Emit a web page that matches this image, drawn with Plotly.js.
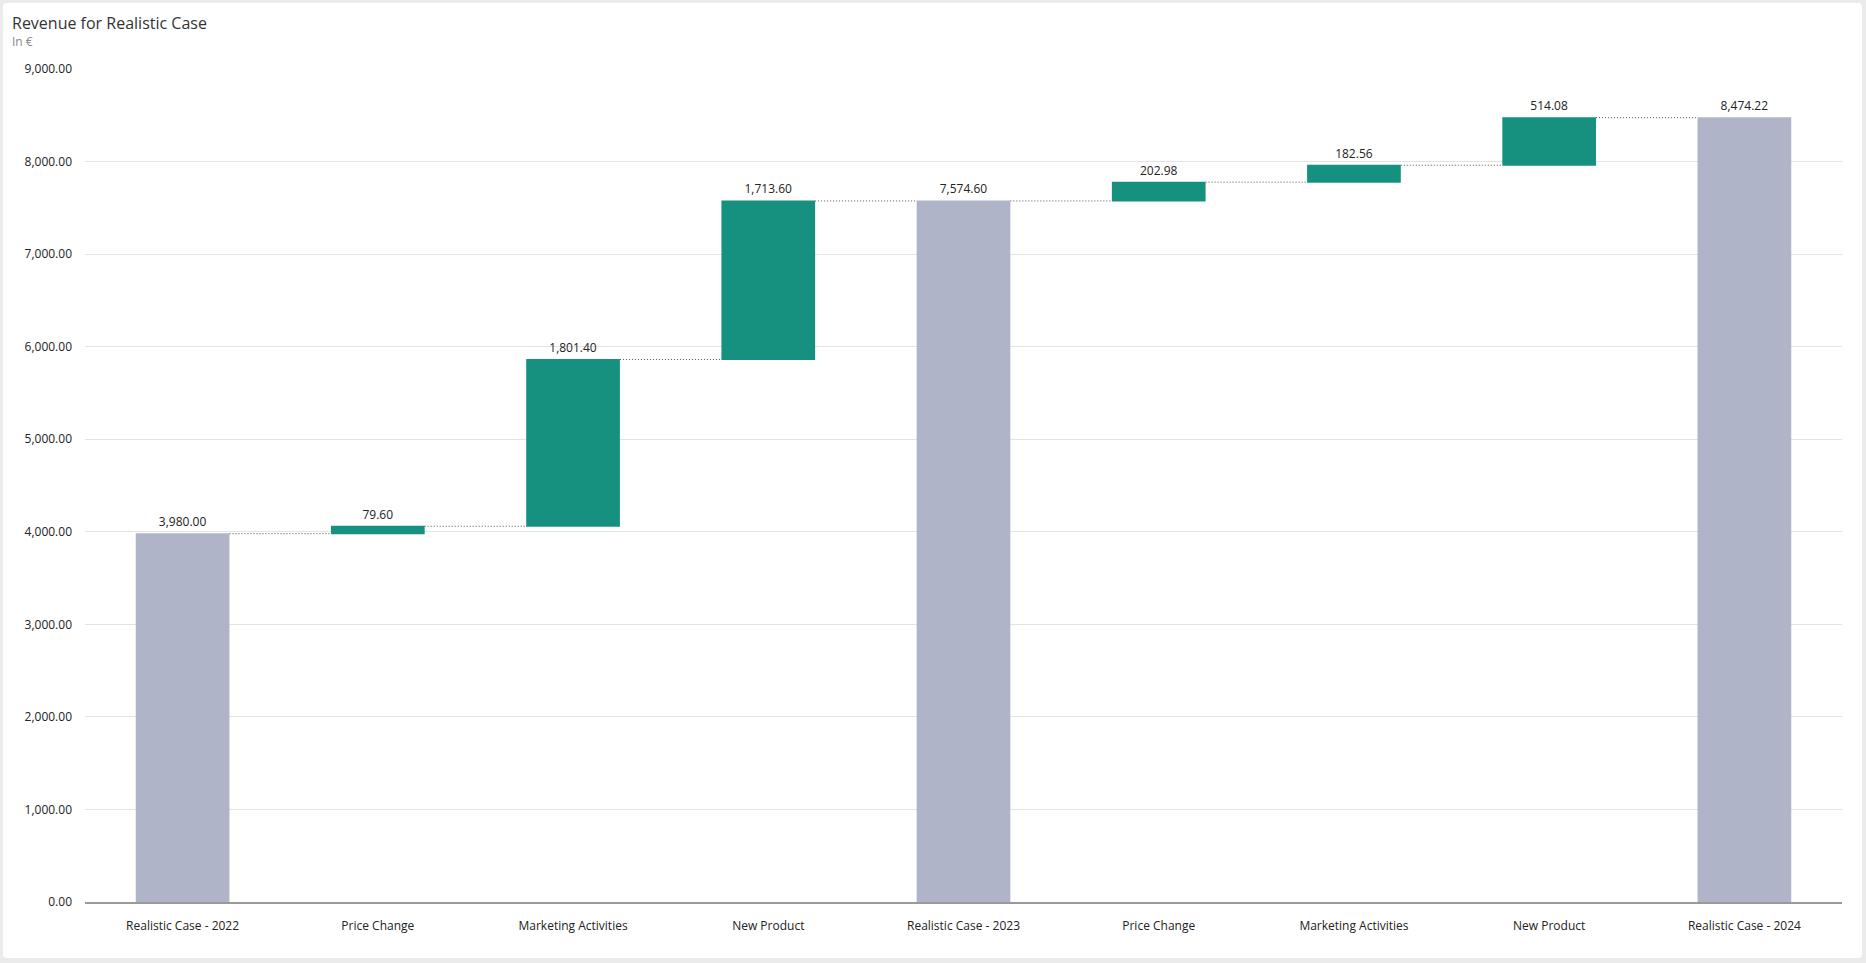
<!DOCTYPE html>
<html>
<head>
<meta charset="utf-8">
<script src="https://cdn.plot.ly/plotly-3.0.1.min.js"></script>
<style>
  html, body { margin: 0; padding: 0; background: #ebebeb; width: 1866px; height: 963px; overflow: hidden; }
  #card { position: absolute; left: 3px; top: 3px; width: 1859px; height: 955px; background: #ffffff; border-radius: 4px; overflow: hidden; }
  #chart { width: 1859px; height: 955px; }
</style>
</head>
<body>
<div id="card"><div id="chart"></div></div>
<script>
const categories = ["Realistic Case - 2022", "Price Change", "Marketing Activities", "New Product",
                    "Realistic Case - 2023", "Price Change ", "Marketing Activities ", "New Product ",
                    "Realistic Case - 2024"];
const tickLabels = ["Realistic Case - 2022", "Price Change", "Marketing Activities", "New Product",
                    "Realistic Case - 2023", "Price Change", "Marketing Activities", "New Product",
                    "Realistic Case - 2024"];
const measures = ["absolute", "relative", "relative", "relative", "total", "relative", "relative", "relative", "total"];
const values = [3980.00, 79.60, 1801.40, 1713.60, 7574.60, 202.98, 182.56, 514.08, 8474.22];
const yTickValues = [0, 1000, 2000, 3000, 4000, 5000, 6000, 7000, 8000, 9000];

const fmt = v => v.toLocaleString('en-US', {minimumFractionDigits: 2, maximumFractionDigits: 2});
const labels = values.map(fmt);

const W = 1859, H = 955;
const margin = {l: 82, r: 20, t: 66, b: 56};
const plotW = W - margin.l - margin.r;
const plotH = H - margin.t - margin.b;

const trace = {
  type: 'waterfall',
  x: categories,
  y: values,
  measure: measures,
  text: labels,
  texttemplate: '%{text}',
  textposition: 'outside',
  cliponaxis: false,
  textfont: {family: 'Open Sans, sans-serif', size: 12, color: '#222222'},
  increasing: {marker: {color: '#16917F'}},
  decreasing: {marker: {color: '#C0504D'}},
  totals: {marker: {color: '#AFB4C8'}},
  connector: {mode: 'between', line: {color: '#555555', width: 1, dash: '1px,2px'}},
  hoverinfo: 'skip'
};

const layout = {
  width: W, height: H,
  margin: margin,
  paper_bgcolor: 'rgba(0,0,0,0)',
  plot_bgcolor: 'rgba(0,0,0,0)',
  showlegend: false,
  waterfallgap: 0.52,
  font: {family: 'Open Sans, sans-serif', size: 12, color: '#333333'},
  xaxis: {
    type: 'category',
    tickvals: categories,
    ticktext: tickLabels,
    showgrid: false,
    showline: true,
    linecolor: '#9a9a9a',
    linewidth: 2,
    ticks: '',
    ticklabelstandoff: 12,
    tickfont: {size: 12, color: '#222222'},
    fixedrange: true
  },
  yaxis: {
    range: [0, 9000],
    tickvals: yTickValues,
    tickformat: ',.2f',
    showgrid: true,
    gridcolor: '#e3e3e3',
    gridwidth: 1,
    zeroline: false,
    showline: false,
    ticks: '',
    ticklabelstandoff: 12,
    tickfont: {size: 12, color: '#222222'},
    fixedrange: true
  },
  annotations: [
    {
      text: 'Revenue for Realistic Case',
      xref: 'paper', yref: 'paper',
      x: (7 - margin.l) / plotW, y: 1 + (margin.t - 20) / plotH,
      xanchor: 'left', yanchor: 'middle',
      showarrow: false,
      font: {family: 'Open Sans, sans-serif', size: 16, color: '#333333'}
    },
    {
      text: 'In €',
      xref: 'paper', yref: 'paper',
      x: (7 - margin.l) / plotW, y: 1 + (margin.t - 39) / plotH,
      xanchor: 'left', yanchor: 'middle',
      showarrow: false,
      font: {family: 'Open Sans, sans-serif', size: 12, color: '#888888'}
    }
  ]
};

Plotly.newPlot('chart', [trace], layout, {displayModeBar: false, staticPlot: true});
</script>
</body>
</html>
